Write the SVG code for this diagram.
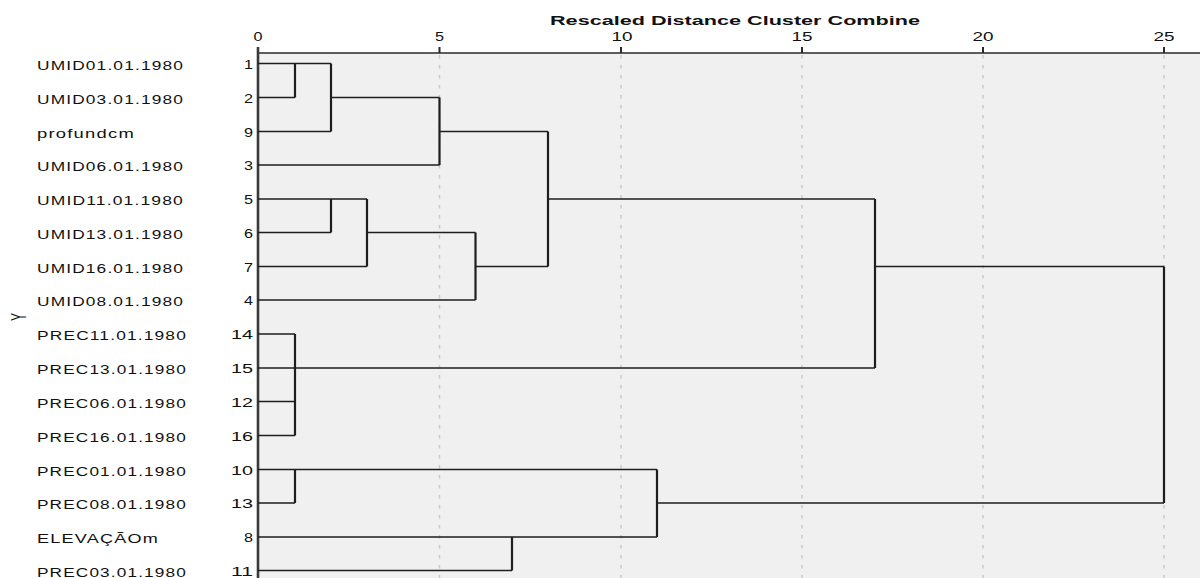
<svg xmlns="http://www.w3.org/2000/svg" width="1200" height="578" viewBox="0 0 1200 578">
<style>
text{font-family:"Liberation Sans",Arial,sans-serif;fill:#111}
.lbl{font-size:12px;letter-spacing:0.8px}
.num{font-size:12.5px;text-anchor:end}
.tick{font-size:12.5px;text-anchor:middle}
.title{font-size:13.5px;font-weight:bold}
.h{stroke:#1e1e1e;stroke-width:1.3;fill:none}
.v{stroke:#1e1e1e;stroke-width:2.2;fill:none}
.grid{stroke:#c9c9c9;stroke-width:1.5;stroke-dasharray:3.5 6.5}
</style>
<rect x="0" y="0" width="1200" height="578" fill="#ffffff"/>
<rect x="258" y="53" width="942" height="525" fill="#f0f0f0"/>
<g id="grid">
<line class="grid" x1="439.5" y1="55" x2="439.5" y2="578"/>
<line class="grid" x1="621" y1="55" x2="621" y2="578"/>
<line class="grid" x1="802" y1="55" x2="802" y2="578"/>
<line class="grid" x1="983" y1="55" x2="983" y2="578"/>
<line class="grid" x1="1164" y1="55" x2="1164" y2="578"/>
</g>
<g id="axis">
<text class="title" x="550" y="25" textLength="370" lengthAdjust="spacingAndGlyphs">Rescaled Distance Cluster Combine</text>
<text class="tick" x="258" y="41" textLength="9" lengthAdjust="spacingAndGlyphs">0</text>
<text class="tick" x="439.5" y="41" textLength="9" lengthAdjust="spacingAndGlyphs">5</text>
<text class="tick" x="622" y="41" textLength="21" lengthAdjust="spacingAndGlyphs">10</text>
<text class="tick" x="802" y="41" textLength="21" lengthAdjust="spacingAndGlyphs">15</text>
<text class="tick" x="983" y="41" textLength="21" lengthAdjust="spacingAndGlyphs">20</text>
<text class="tick" x="1164" y="41" textLength="21" lengthAdjust="spacingAndGlyphs">25</text>
<line x1="258" y1="53" x2="1200" y2="53" stroke="#2a2a2a" stroke-width="1.5"/>
<g stroke="#2a2a2a" stroke-width="2">
<line x1="439.5" y1="47" x2="439.5" y2="53"/>
<line x1="621" y1="47" x2="621" y2="53"/>
<line x1="802" y1="47" x2="802" y2="53"/>
<line x1="983" y1="47" x2="983" y2="53"/>
<line x1="1164" y1="47" x2="1164" y2="53"/>
</g>
<line x1="258" y1="47" x2="258" y2="578" stroke="#3a3a3a" stroke-width="2.6"/>
<text transform="translate(26,317) rotate(-90) scale(1,1.8)" font-size="12" text-anchor="middle">Y</text>
</g>
<g id="connectors">
<path class="h" d="M258 63.5H331M258 97.5H295M258 131.5H331M331 97.5H439.5M258 165H439.5M439.5 131.5H548"/>
<path class="v" d="M295 63.5V97.5M331 63.5V131.5M439.5 97.5V165M548 131.5V266.5"/>
<path class="h" d="M258 199H367M258 232.5H331M258 266.5H367M367 232.5H475.5M258 300H475.5M475.5 266.5H548"/>
<path class="h" stroke-width="1.7" d="M548 199H875"/>
<path class="v" d="M331 199V232.5M367 199V266.5M475.5 232.5V300"/>
<path class="h" d="M258 334H295M258 401.5H295M258 435.5H295"/>
<path class="h" stroke-width="1.7" d="M258 368H875"/>
<path class="v" d="M295 334V435.5M875 199V368"/>
<path class="h" d="M875 266.5H1164"/>
<path class="h" d="M258 469.5H657M258 503H295M258 537H657M258 570.5H512"/>
<path class="h" stroke-width="1.7" d="M657 503H1164"/>
<path class="v" d="M295 469.5V503M512 537V570.5M657 469.5V537M1164 266.5V503"/>
</g>
<g id="n1"><text class="lbl" x="37" y="69.5" textLength="147" lengthAdjust="spacingAndGlyphs">UMID01.01.1980</text><text class="num" x="253" y="68.5" textLength="9" lengthAdjust="spacingAndGlyphs">1</text></g>
<g id="n2"><text class="lbl" x="37" y="103.5" textLength="147" lengthAdjust="spacingAndGlyphs">UMID03.01.1980</text><text class="num" x="253" y="102.5" textLength="9" lengthAdjust="spacingAndGlyphs">2</text></g>
<g id="n9"><text class="lbl" x="37" y="137.5" textLength="98" lengthAdjust="spacingAndGlyphs">profundcm</text><text class="num" x="253" y="136.5" textLength="9" lengthAdjust="spacingAndGlyphs">9</text></g>
<g id="n3"><text class="lbl" x="37" y="171" textLength="147" lengthAdjust="spacingAndGlyphs">UMID06.01.1980</text><text class="num" x="253" y="170" textLength="9" lengthAdjust="spacingAndGlyphs">3</text></g>
<g id="n5"><text class="lbl" x="37" y="205" textLength="147" lengthAdjust="spacingAndGlyphs">UMID11.01.1980</text><text class="num" x="253" y="204" textLength="9" lengthAdjust="spacingAndGlyphs">5</text></g>
<g id="n6"><text class="lbl" x="37" y="238.5" textLength="147" lengthAdjust="spacingAndGlyphs">UMID13.01.1980</text><text class="num" x="253" y="237.5" textLength="9" lengthAdjust="spacingAndGlyphs">6</text></g>
<g id="n7"><text class="lbl" x="37" y="272.5" textLength="147" lengthAdjust="spacingAndGlyphs">UMID16.01.1980</text><text class="num" x="253" y="271.5" textLength="9" lengthAdjust="spacingAndGlyphs">7</text></g>
<g id="n4"><text class="lbl" x="37" y="306" textLength="147" lengthAdjust="spacingAndGlyphs">UMID08.01.1980</text><text class="num" x="253" y="305" textLength="9" lengthAdjust="spacingAndGlyphs">4</text></g>
<g id="n14"><text class="lbl" x="37" y="340" textLength="150" lengthAdjust="spacingAndGlyphs">PREC11.01.1980</text><text class="num" x="253" y="339" textLength="22" lengthAdjust="spacingAndGlyphs">14</text></g>
<g id="n15"><text class="lbl" x="37" y="374" textLength="150" lengthAdjust="spacingAndGlyphs">PREC13.01.1980</text><text class="num" x="253" y="373" textLength="22" lengthAdjust="spacingAndGlyphs">15</text></g>
<g id="n12"><text class="lbl" x="37" y="407.5" textLength="150" lengthAdjust="spacingAndGlyphs">PREC06.01.1980</text><text class="num" x="253" y="406.5" textLength="22" lengthAdjust="spacingAndGlyphs">12</text></g>
<g id="n16"><text class="lbl" x="37" y="441.5" textLength="150" lengthAdjust="spacingAndGlyphs">PREC16.01.1980</text><text class="num" x="253" y="440.5" textLength="22" lengthAdjust="spacingAndGlyphs">16</text></g>
<g id="n10"><text class="lbl" x="37" y="475.5" textLength="150" lengthAdjust="spacingAndGlyphs">PREC01.01.1980</text><text class="num" x="253" y="474.5" textLength="22" lengthAdjust="spacingAndGlyphs">10</text></g>
<g id="n13"><text class="lbl" x="37" y="509" textLength="150" lengthAdjust="spacingAndGlyphs">PREC08.01.1980</text><text class="num" x="253" y="508" textLength="22" lengthAdjust="spacingAndGlyphs">13</text></g>
<g id="n8"><text class="lbl" x="37" y="543" textLength="122" lengthAdjust="spacingAndGlyphs">ELEVAÇÃOm</text><text class="num" x="253" y="542" textLength="9" lengthAdjust="spacingAndGlyphs">8</text></g>
<g id="n11"><text class="lbl" x="37" y="576.5" textLength="150" lengthAdjust="spacingAndGlyphs">PREC03.01.1980</text><text class="num" x="253" y="575.5" textLength="22" lengthAdjust="spacingAndGlyphs">11</text></g>
</svg>
